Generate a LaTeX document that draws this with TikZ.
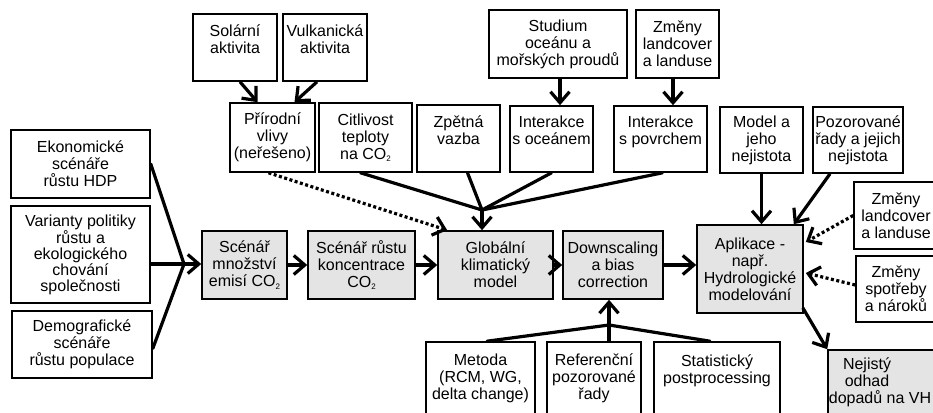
\documentclass[tikz,border=0pt]{standalone}
\usepackage{fontspec}
\setmainfont{Liberation Sans}
\usetikzlibrary{arrows.meta,calc}
\definecolor{boxgray}{RGB}{228,228,228}
\newcommand\cotwo{CO\raisebox{-2.5pt}{\fontsize{8}{8}\selectfont 2}}
\begin{document}
\begin{tikzpicture}[x=1pt,y=-1pt,
  box/.style={draw, line width=1.6pt, align=center, inner sep=0pt, font=\fontsize{16}{17}\selectfont},
  gbox/.style={box, fill=boxgray},
  txt/.style={align=center, inner sep=0pt, font=\fontsize{16}{17}\selectfont},
  conn/.style={line width=3.2pt, line cap=round},
  arr/.style={line width=3.2pt, -{Straight Barb[length=11pt,width=19pt]}},
  dotarr/.style={arr, dash pattern=on 3pt off 2.5pt}]
\clip (0,0) rectangle (933,412);

% left column
\node[box, minimum width=139pt, minimum height=68pt] (ek) at (80.5,164) {Ekonomické\\scénáře\\růstu HDP};
\node[box, minimum width=139pt, minimum height=97pt, font=\fontsize{16}{16}\selectfont] (va) at (80.5,254.5) {Varianty politiky\\růstu a\\ekologického\\chování\\společnosti};
\node[box, minimum width=140pt, minimum height=67pt] (de) at (82,344.5) {Demografické\\scénáře\\růstu populace};

% main chain
\node[gbox, minimum width=85pt, minimum height=68pt] (se) at (244.5,265) {Scénář\\množství\\emisí \cotwo};
\node[gbox, minimum width=107pt, minimum height=68pt] (sr) at (361.5,265) {Scénář růstu\\koncentrace\\\cotwo};
\node[gbox, minimum width=115pt, minimum height=68pt] (gl) at (495.5,265) {Globální\\klimatický\\model};
\node[gbox, minimum width=100pt, minimum height=68pt] (ds) at (613,265) {Downscaling\\a bias\\correction};
\node[gbox, minimum width=106pt, minimum height=88pt] (ap) at (750,269) {Aplikace -\\např.\\Hydrologické\\modelování};
\node[gbox, minimum width=152pt, minimum height=64pt] (ne) at (904,382) {};
\node[txt] (net) at (880,382) {\hspace*{-26pt}Nejistý\\\hspace*{-26pt}odhad\\dopadů na VH};

% top
\node[box, minimum width=84pt, minimum height=67pt] (so) at (235,47.5) {Solární\\aktivita\\ \mbox{}};
\node[box, minimum width=84pt, minimum height=67pt] (vu) at (325,47.5) {Vulkanická\\aktivita\\ \mbox{}};
\node[box, minimum width=85pt, minimum height=69pt] (pr) at (272.5,137.5) {Přírodní\\vlivy\\(neřešeno)};
\node[box, minimum width=93pt, minimum height=69pt] (ci) at (365.5,137.5) {Citlivost\\teploty\\na \cotwo};
\node[box, minimum width=83pt, minimum height=67pt] (zp) at (458.5,138.5) {Zpětná\\vazba\\ \mbox{}};
\node[box, minimum width=83pt, minimum height=66pt] (io) at (551.5,139) {Interakce\\s oceánem\\ \mbox{}};
\node[box, minimum width=93pt, minimum height=66pt] (ip) at (660.5,139) {Interakce\\s povrchem\\ \mbox{}};
\node[box, minimum width=138pt, minimum height=68pt] (st) at (558,44) {Studium\\oceánu a\\mořských proudů};
\node[box, minimum width=83pt, minimum height=68pt] (zl) at (677.5,44) {Změny\\landcover\\a landuse};
\node[box, minimum width=83pt, minimum height=66pt] (mo) at (761.5,140) {Model a\\jeho\\nejistota};
\node[box, minimum width=90pt, minimum height=66pt] (po) at (858,140) {Pozorované\\řady a jejich\\nejistota};

% right
\node[box, minimum width=84pt, minimum height=67pt] (zr) at (896,215.5) {Změny\\landcover\\a landuse};
\node[box, minimum width=80pt, minimum height=66pt] (zs) at (896,289) {Změny\\spotřeby\\a nároků};

% bottom
\node[box, minimum width=109pt, minimum height=72pt] (me) at (480.5,378) {Metoda\\(RCM, WG,\\delta change)};
\node[box, minimum width=94pt, minimum height=72pt] (re) at (594,378) {Referenční\\pozorované\\řady};
\node[box, minimum width=126pt, minimum height=72pt] (sp) at (717,378) {Statistický\\postprocessing\\ \mbox{}};

% junctions
\coordinate (J0) at (184,264);
\coordinate (J1) at (482,210);
\coordinate (J2) at (609,325);

% left convergence
\draw[conn] (ek.east) -- (J0);
\draw[conn] (va.east |- J0) -- (J0);
\draw[conn] ([yshift=-4pt]de.east) -- (J0);
\draw[arr] (J0) -- (J0 -| se.west);

% chain
\draw[arr] (se.east) -- (sr.west);
\draw[arr] (sr.east) -- (gl.west);
\draw[arr] (gl.east) -- (ds.west);
\draw[arr] (ds.east) -- (ds.east -| ap.west);

% top
\draw[arr] ([xshift=5pt]so.south) -- ([xshift=-15pt]pr.north);
\draw[arr] ([xshift=-8pt]vu.south) -- ([xshift=22pt]pr.north);
\draw[dotarr] ([xshift=-4pt]pr.south) -- ([xshift=10pt]gl.north west);
\draw[conn] ([xshift=-5pt]ci.south) -- (J1);
\draw[conn] ([xshift=9pt]zp.south) -- (J1);
\draw[conn] (io.south) -- (J1);
\draw[conn] ([xshift=2pt]ip.south) -- (J1);
\draw[arr] (J1) -- (J1 |- gl.north);
\draw[arr] ([xshift=2pt]st.south) -- ([xshift=2pt]st.south |- io.north);
\draw[arr] ([xshift=-4.5pt]zl.south) -- ([xshift=-4.5pt]zl.south |- ip.north);

% right
\draw[arr] (mo.south) -- (mo.south |- ap.north);
\draw[arr] ([xshift=-28pt]po.south) -- ([xshift=-10pt]ap.north east);
\draw[dotarr] (zr.west) -- ([xshift=2pt,yshift=27pt]ap.east);
\draw[dotarr] ([yshift=4pt]zs.west) -- ([xshift=2pt,yshift=-4pt]ap.east);
\draw[arr] ([xshift=-1pt,yshift=6pt]ap.south east) -- (ne.north west);

% bottom convergence
\draw[conn] ([xshift=6.5pt]me.north) -- (J2);
\draw[conn] (J2 |- re.north) -- (J2);
\draw[conn] ([xshift=-7pt]sp.north) -- (J2);
\draw[arr] (J2) -- (J2 |- ds.south);
\end{tikzpicture}
\end{document}
